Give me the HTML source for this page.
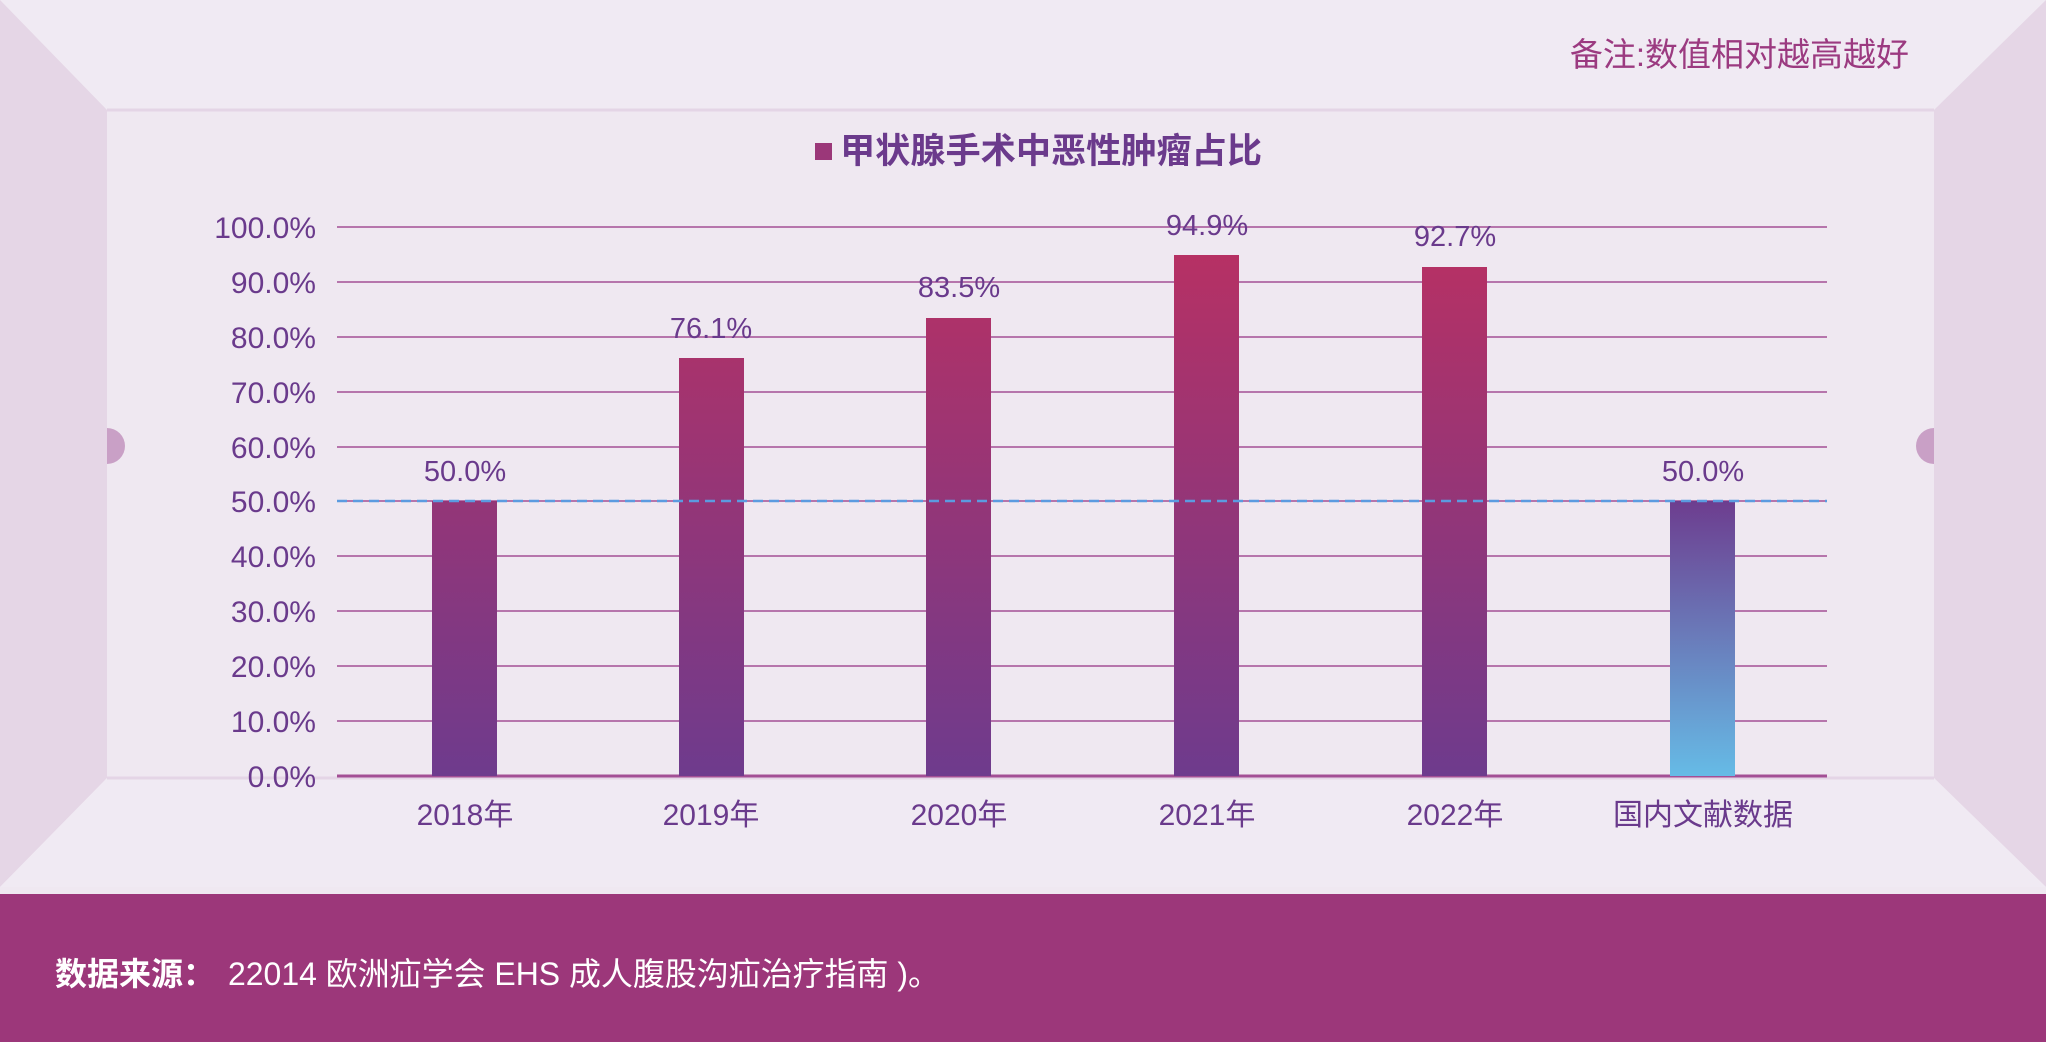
<!DOCTYPE html>
<html><head><meta charset="utf-8"><style>
html,body{margin:0;padding:0;width:2046px;height:1042px;overflow:hidden;background:#efe8f1}
svg{display:block}
text{font-family:"Liberation Sans","Noto Sans CJK SC",sans-serif}
</style></head><body>
<svg width="2046" height="1042" viewBox="0 0 2046 1042" xmlns="http://www.w3.org/2000/svg">
<defs>
<linearGradient id="g1" gradientUnits="userSpaceOnUse" x1="0" y1="227" x2="0" y2="776">
<stop offset="0" stop-color="#ba3062"/><stop offset="1" stop-color="#6e3b8d"/></linearGradient>
<linearGradient id="g2" gradientUnits="userSpaceOnUse" x1="0" y1="501" x2="0" y2="776">
<stop offset="0" stop-color="#6d3d8f"/><stop offset="1" stop-color="#66bbe6"/></linearGradient>
</defs>
<rect width="2046" height="1042" fill="#efe8f1"/>
<polygon points="0,0 2046,0 1934,110 107,110" fill="#f0eaf3"/>
<polygon points="0,0 107,110 107,778 0,887" fill="#e5d6e6"/>
<polygon points="2046,0 1934,110 1934,778 2046,887" fill="#e5d6e6"/>
<polygon points="0,887 107,778 1934,778 2046,887" fill="#f0eaf3"/>
<line x1="107" y1="110" x2="1934" y2="110" stroke="#e4d5e6" stroke-width="3"/>
<line x1="107" y1="778" x2="1934" y2="778" stroke="#e4d5e6" stroke-width="3"/>
<path d="M107,428 a18,18 0 0 1 0,36 z" fill="#c9a0c6"/>
<path d="M1934,428 a18,18 0 0 0 0,36 z" fill="#c9a0c6"/>
<rect x="0" y="894" width="2046" height="148" fill="#9c377a"/>
<text x="1909" y="66" text-anchor="end" font-size="33" fill="#9b3a80">备注:数值相对越高越好</text>
<rect x="815" y="143" width="17" height="17" fill="#9b3779"/>
<text x="840" y="163" font-size="35" fill="#6b3a8c" font-weight="bold" textLength="422" lengthAdjust="spacingAndGlyphs">甲状腺手术中恶性肿瘤占比</text>
<g stroke="#a34f95" stroke-width="1.6">
<line x1="337" x2="1827" y1="227" y2="227"/><line x1="337" x2="1827" y1="282" y2="282"/>
<line x1="337" x2="1827" y1="337" y2="337"/><line x1="337" x2="1827" y1="392" y2="392"/>
<line x1="337" x2="1827" y1="447" y2="447"/><line x1="337" x2="1827" y1="501" y2="501"/>
<line x1="337" x2="1827" y1="556" y2="556"/><line x1="337" x2="1827" y1="611" y2="611"/>
<line x1="337" x2="1827" y1="666" y2="666"/><line x1="337" x2="1827" y1="721" y2="721"/>
</g>
<line x1="337" x2="1827" y1="776" y2="776" stroke="#a34f95" stroke-width="3"/>
<g font-size="30" fill="#6a3a8c" text-anchor="end">
<text x="316" y="238">100.0%</text><text x="316" y="293">90.0%</text><text x="316" y="348">80.0%</text>
<text x="316" y="403">70.0%</text><text x="316" y="458">60.0%</text><text x="316" y="512">50.0%</text>
<text x="316" y="567">40.0%</text><text x="316" y="622">30.0%</text><text x="316" y="677">20.0%</text>
<text x="316" y="732">10.0%</text><text x="316" y="787">0.0%</text>
</g>
<g fill="url(#g1)">
<rect x="432" y="501" width="65" height="275"/>
<rect x="679" y="358" width="65" height="418"/>
<rect x="926" y="318" width="65" height="458"/>
<rect x="1174" y="255" width="65" height="521"/>
<rect x="1422" y="267" width="65" height="509"/>
</g>
<rect x="1670" y="501" width="65" height="275" fill="url(#g2)"/>
<line x1="337" x2="1827" y1="501" y2="501" stroke="#5b9be0" stroke-width="2.5" stroke-dasharray="10,6"/>
<g font-size="29" fill="#6a3a8c" text-anchor="middle" font-weight="300">
<text x="465" y="481">50.0%</text><text x="711" y="338">76.1%</text><text x="959" y="297">83.5%</text>
<text x="1207" y="235">94.9%</text><text x="1455" y="246">92.7%</text><text x="1703" y="481">50.0%</text>
</g>
<g font-size="30" fill="#6a3a8c" text-anchor="middle">
<text x="465" y="825">2018年</text><text x="711" y="825">2019年</text><text x="959" y="825">2020年</text>
<text x="1207" y="825">2021年</text><text x="1455" y="825">2022年</text><text x="1703" y="825">国内文献数据</text>
</g>
<text x="55" y="985" font-size="32" fill="#ffffff" font-weight="bold">数据来源：</text>
<text x="228" y="985" font-size="32" fill="#ffffff" textLength="712" lengthAdjust="spacingAndGlyphs">22014 欧洲疝学会 EHS 成人腹股沟疝治疗指南 )。</text>
</svg>
</body></html>
